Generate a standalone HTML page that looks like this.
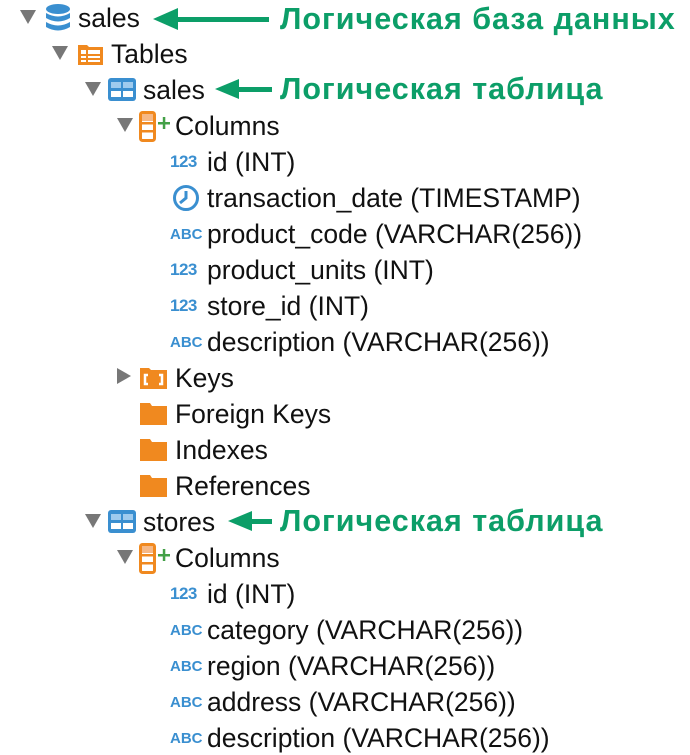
<!DOCTYPE html>
<html><head><meta charset="utf-8"><style>
body{margin:0;width:690px;height:755px;background:#fff;position:relative;overflow:hidden;font-family:"Liberation Sans","DejaVu Sans",sans-serif}
.t{position:absolute;font-size:26.5px;line-height:28px;color:#111;white-space:nowrap}
.g{position:absolute;font-size:30.5px;line-height:30px;color:#0c9e68;font-weight:bold;white-space:nowrap;letter-spacing:1px}
svg{position:absolute}
.n{position:absolute;font-size:17px;font-weight:bold;color:#3a8fd0;line-height:18px;letter-spacing:-0.5px}
.a{font-size:15px;letter-spacing:0}
</style></head><body>

<svg style="left:20px;top:10px" width="18" height="16"><polygon points="0,0 16,0 8,14" fill="#777"/></svg>
<svg style="left:45px;top:3px" width="26" height="30"><ellipse cx="13" cy="6" rx="12" ry="5" fill="#3a8fd0"/><path d="M1 10 Q13 17 25 10 V15 Q13 22 1 15Z" fill="#3a8fd0"/><path d="M1 19 Q13 26 25 19 V24 Q13 31 1 24Z" fill="#3a8fd0"/></svg>
<div class="t" style="left:78px;top:4px">sales</div>
<svg style="left:150px;top:6px" width="125" height="26"><polygon points="3,13 28,2 28,24" fill="#0c9e68"/><rect x="24" y="11" width="95" height="5" fill="#0c9e68"/></svg>
<div class="g" style="left:280px;top:4px">Логическая база данных</div>

<svg style="left:52px;top:46px" width="18" height="16"><polygon points="0,0 16,0 8,14" fill="#777"/></svg>
<svg style="left:77px;top:42px" width="28" height="24"><path d="M1 3 H10 L12 5 H26 V23 H1Z" fill="#f0891f"/><rect x="4" y="8" width="19" height="12" fill="#fff"/><rect x="4" y="12" width="19" height="2" fill="#f0891f"/><rect x="4" y="16" width="19" height="2" fill="#f0891f"/><rect x="9" y="8" width="2" height="12" fill="#f0891f"/></svg>
<div class="t" style="left:111px;top:40px">Tables</div>

<svg style="left:85px;top:82px" width="18" height="16"><polygon points="0,0 16,0 8,14" fill="#777"/></svg>
<svg style="left:108px;top:77px" width="30" height="26"><rect x="0" y="1" width="28" height="23" rx="3" fill="#3a8fd0"/><rect x="3" y="5" width="10" height="6" fill="#9fcbee"/><rect x="15" y="5" width="10" height="6" fill="#9fcbee"/><rect x="3" y="14" width="10" height="6" fill="#fff"/><rect x="15" y="14" width="10" height="6" fill="#fff"/></svg>
<div class="t" style="left:143px;top:76px">sales</div>
<svg style="left:212px;top:77px" width="65" height="26"><polygon points="3,12 27,2 27,22" fill="#0c9e68"/><rect x="24" y="10" width="36" height="5" fill="#0c9e68"/></svg>
<div class="g" style="left:280px;top:74px">Логическая таблица</div>

<svg style="left:117px;top:118px" width="18" height="16"><polygon points="0,0 16,0 8,14" fill="#777"/></svg>
<svg style="left:139px;top:111px" width="32" height="32"><rect x="1.5" y="1.5" width="14" height="28" rx="2" fill="#fff" stroke="#f0891f" stroke-width="3"/><rect x="3" y="3" width="11" height="7" fill="#f6b886"/><rect x="2" y="11" width="13" height="2.5" fill="#f0891f"/><rect x="2" y="19" width="13" height="2.5" fill="#f0891f"/><rect x="19" y="11" width="12" height="2.5" fill="#43a047"/><rect x="23.8" y="6" width="2.5" height="12" fill="#43a047"/></svg>
<div class="t" style="left:175px;top:112px">Columns</div>

<div class="n" style="left:170px;top:153px">123</div><div class="t" style="left:207px;top:148px">id (INT)</div>
<svg style="left:172px;top:184px" width="28" height="28"><circle cx="14" cy="14" r="11.5" fill="none" stroke="#3a8fd0" stroke-width="3"/><path d="M14 7 V14 L8 19" fill="none" stroke="#3a8fd0" stroke-width="3"/></svg>
<div class="t" style="left:207px;top:184px">transaction_date (TIMESTAMP)</div>
<div class="n a" style="left:170px;top:226px">ABC</div><div class="t" style="left:207px;top:220px">product_code (VARCHAR(256))</div>
<div class="n" style="left:170px;top:261px">123</div><div class="t" style="left:207px;top:256px">product_units (INT)</div>
<div class="n" style="left:170px;top:297px">123</div><div class="t" style="left:207px;top:292px">store_id (INT)</div>
<div class="n a" style="left:170px;top:334px">ABC</div><div class="t" style="left:207px;top:328px">description (VARCHAR(256))</div>

<svg style="left:117px;top:368px" width="16" height="18"><polygon points="0,0 14,8 0,16" fill="#777"/></svg>
<svg style="left:139px;top:365px" width="30" height="26"><path d="M1 3 H10 L12 5 H28 V24 H1Z" fill="#f0891f"/><path d="M9 10 H6 V19 H9 M20 10 H23 V19 H20" fill="none" stroke="#fff" stroke-width="2.5"/></svg>
<div class="t" style="left:175px;top:364px">Keys</div>
<svg style="left:139px;top:401px" width="30" height="26"><path d="M1 2 H11 L13 5 H28 V24 H1Z" fill="#f0891f"/></svg>
<div class="t" style="left:175px;top:400px">Foreign Keys</div>
<svg style="left:139px;top:437px" width="30" height="26"><path d="M1 2 H11 L13 5 H28 V24 H1Z" fill="#f0891f"/></svg>
<div class="t" style="left:175px;top:436px">Indexes</div>
<svg style="left:139px;top:473px" width="30" height="26"><path d="M1 2 H11 L13 5 H28 V24 H1Z" fill="#f0891f"/></svg>
<div class="t" style="left:175px;top:472px">References</div>

<svg style="left:85px;top:514px" width="18" height="16"><polygon points="0,0 16,0 8,14" fill="#777"/></svg>
<svg style="left:108px;top:509px" width="30" height="26"><rect x="0" y="1" width="28" height="23" rx="3" fill="#3a8fd0"/><rect x="3" y="5" width="10" height="6" fill="#9fcbee"/><rect x="15" y="5" width="10" height="6" fill="#9fcbee"/><rect x="3" y="14" width="10" height="6" fill="#fff"/><rect x="15" y="14" width="10" height="6" fill="#fff"/></svg>
<div class="t" style="left:143px;top:508px">stores</div>
<svg style="left:225px;top:509px" width="52" height="26"><polygon points="3,12 27,2 27,22" fill="#0c9e68"/><rect x="24" y="10" width="23" height="5" fill="#0c9e68"/></svg>
<div class="g" style="left:280px;top:506px">Логическая таблица</div>

<svg style="left:117px;top:550px" width="18" height="16"><polygon points="0,0 16,0 8,14" fill="#777"/></svg>
<svg style="left:139px;top:543px" width="32" height="32"><rect x="1.5" y="1.5" width="14" height="28" rx="2" fill="#fff" stroke="#f0891f" stroke-width="3"/><rect x="3" y="3" width="11" height="7" fill="#f6b886"/><rect x="2" y="11" width="13" height="2.5" fill="#f0891f"/><rect x="2" y="19" width="13" height="2.5" fill="#f0891f"/><rect x="19" y="11" width="12" height="2.5" fill="#43a047"/><rect x="23.8" y="6" width="2.5" height="12" fill="#43a047"/></svg>
<div class="t" style="left:175px;top:544px">Columns</div>

<div class="n" style="left:170px;top:585px">123</div><div class="t" style="left:207px;top:580px">id (INT)</div>
<div class="n a" style="left:170px;top:622px">ABC</div><div class="t" style="left:207px;top:616px">category (VARCHAR(256))</div>
<div class="n a" style="left:170px;top:658px">ABC</div><div class="t" style="left:207px;top:652px">region (VARCHAR(256))</div>
<div class="n a" style="left:170px;top:694px">ABC</div><div class="t" style="left:207px;top:688px">address (VARCHAR(256))</div>
<div class="n a" style="left:170px;top:730px">ABC</div><div class="t" style="left:207px;top:724px">description (VARCHAR(256))</div>
</body></html>
